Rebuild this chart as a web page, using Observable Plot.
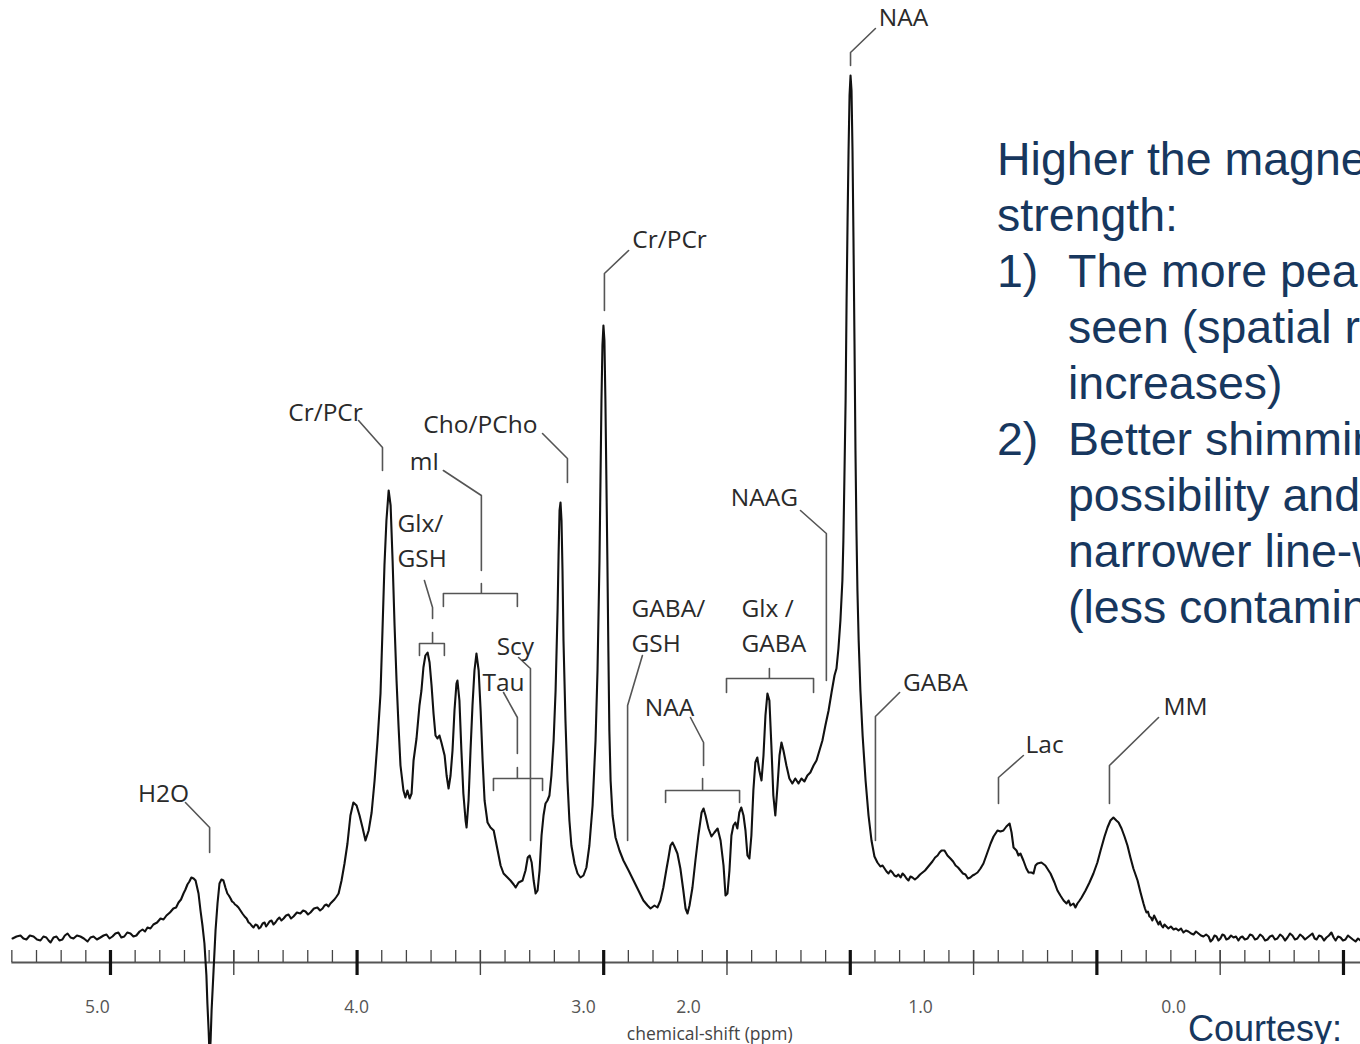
<!DOCTYPE html>
<html>
<head>
<meta charset="utf-8">
<script src="https://cdn.jsdelivr.net/npm/d3@7"></script>
<script src="https://cdn.jsdelivr.net/npm/@observablehq/plot@0.6"></script>
<style>
html,body{margin:0;padding:0;width:1360px;height:1044px;overflow:hidden;background:#fff;}
#wrap{position:relative;width:1360px;height:1044px;overflow:hidden;}
#chart{position:absolute;left:0;top:0;}
.note{position:absolute;left:997px;top:131px;font-family:"Liberation Sans",Arial,sans-serif;font-size:46.5px;line-height:56px;color:#17375E;white-space:nowrap;}
.note .num{display:inline-block;width:71px;}
.note .ind{padding-left:71px;}
.courtesy{position:absolute;left:1188px;top:1011px;font-family:"Liberation Sans",Arial,sans-serif;font-size:36px;line-height:36px;color:#17375E;white-space:nowrap;}
</style>
</head>
<body>
<div id="wrap">
  <div id="chart"></div>
  <div class="note">
    <div>Higher the magnetic field</div>
    <div>strength:</div>
    <div><span class="num">1)</span>The more peaks</div>
    <div class="ind">seen (spatial resolution</div>
    <div class="ind">increases)</div>
    <div><span class="num">2)</span>Better shimming</div>
    <div class="ind">possibility and</div>
    <div class="ind">narrower line-widths</div>
    <div class="ind">(less contamination)</div>
  </div>
  <div class="courtesy">Courtesy:</div>
</div>
<script>
// ---- spectrum: [chemical shift (ppm), intensity (a.u.)] ----
const spectrum = [
[5.397,7],[5.381,9],[5.365,10],[5.353,7],[5.341,6],[5.327,10],[5.312,9],[5.298,6],[5.284,5],[5.272,9],[5.260,8],[5.251,5],[5.243,3],[5.231,8],[5.219,9],[5.207,5],[5.195,6],[5.185,10],[5.174,12],
[5.162,8],[5.150,7],[5.136,10],[5.122,9],[5.108,7],[5.093,4],[5.081,8],[5.069,9],[5.055,6],[5.041,8],[5.028,10],[5.016,11],[5.004,7],[4.992,9],[4.980,12],[4.968,13],[4.956,8],[4.944,9],[4.932,13],[4.919,12],
[4.907,9],[4.895,10],[4.882,14],[4.870,16],[4.860,14],[4.850,18],[4.838,17],[4.826,21],[4.811,23],[4.797,27],[4.785,26],[4.773,30],[4.759,33],[4.745,37],[4.734,38],[4.724,43],[4.714,46],[4.704,52],[4.696,56],[4.688,61],
[4.680,64],[4.672,68],[4.663,67],[4.655,65],[4.643,52],[4.635,35],[4.627,20],[4.619,2],[4.611,-30],[4.607,-58],[4.602,-85],[4.598,-112],
[4.594,-95],[4.590,-65],[4.582,-25],[4.574,15],[4.566,42],[4.558,62],[4.550,66],[4.542,65],[4.534,58],[4.526,52],
[4.520,50],[4.513,47],[4.507,44],[4.501,43],[4.495,41],[4.489,40],[4.481,38],[4.473,35],[4.465,32],[4.456,29],[4.448,27],[4.440,23],[4.434,22],[4.428,20],[4.420,18],[4.412,21],[4.404,20],[4.398,17],[4.392,18],
[4.383,22],[4.375,23],[4.369,19],[4.363,21],[4.355,24],[4.347,25],[4.339,21],[4.331,23],[4.323,26],[4.315,28],[4.307,25],[4.298,27],[4.288,30],[4.278,31],[4.268,27],[4.258,29],[4.244,33],[4.230,32],[4.219,35],[4.209,34],
[4.199,31],[4.189,33],[4.175,37],[4.161,38],[4.150,35],[4.140,37],[4.132,40],[4.124,41],[4.116,39],[4.108,42],[4.100,44],[4.092,46],[4.083,49],[4.075,52],[4.063,65],[4.051,82],[4.039,102],
[4.027,130],[4.015,143],[4.002,140],[3.990,130],[3.978,118],[3.966,105],[3.953,115],[3.941,133],[3.929,165],[3.917,205],
[3.905,252],[3.897,315],[3.889,380],[3.881,425],[3.872,455],[3.864,440],[3.856,385],[3.848,320],[3.840,265],[3.832,220],
[3.824,180],[3.812,155],[3.804,148],[3.796,155],[3.787,147],[3.779,152],[3.771,185],[3.759,207],[3.747,240],[3.739,255],
[3.731,278],[3.723,290],[3.714,293],[3.706,283],[3.698,260],[3.690,232],[3.682,210],[3.674,207],[3.666,210],[3.658,203],
[3.645,190],[3.637,170],[3.629,157],[3.621,170],[3.613,195],[3.605,235],[3.597,262],[3.593,265],[3.585,245],[3.577,195],
[3.569,152],[3.560,125],[3.556,118],[3.548,145],[3.540,195],[3.532,240],[3.524,275],[3.516,292],[3.507,275],[3.499,235],
[3.491,185],[3.483,145],[3.471,123],[3.459,118],[3.446,115],[3.438,105],[3.430,95],[3.418,80],[3.406,72],[3.394,69],
[3.378,65],[3.365,61],[3.357,58],[3.345,63],[3.329,65],[3.317,75],[3.308,88],[3.300,90],[3.292,83],[3.284,65],
[3.276,52],[3.268,55],[3.260,75],[3.252,110],[3.244,130],[3.236,142],[3.228,145],[3.220,150],[3.212,170],[3.203,205],
[3.195,255],[3.187,335],[3.183,390],[3.179,435],[3.175,443],[3.171,425],[3.167,375],[3.163,305],[3.155,225],[3.147,165],
[3.139,125],[3.131,100],[3.118,82],[3.106,72],[3.094,68],[3.082,70],[3.070,78],[3.058,100],[3.045,140],[3.033,205],
[3.025,275],[3.017,385],[3.013,465],[3.009,545],[3.005,600],[3.001,620],[2.997,605],[2.993,545],[2.989,465],[2.985,385],
[2.981,295],[2.977,215],[2.972,165],[2.964,130],[2.952,108],[2.936,95],[2.920,85],[2.899,75],[2.879,65],[2.859,55],
[2.839,45],[2.822,40],[2.810,37],[2.794,40],[2.782,38],[2.770,45],[2.758,58],[2.745,77],[2.737,88],[2.729,100],
[2.721,103],[2.713,99],[2.701,92],[2.689,77],[2.677,55],[2.668,37],[2.660,32],[2.652,40],[2.640,58],[2.628,85],
[2.616,110],[2.603,133],[2.595,137],[2.587,130],[2.575,117],[2.563,109],[2.551,113],[2.538,117],[2.526,105],[2.514,80],
[2.506,50],[2.498,52],[2.490,75],[2.482,110],[2.474,120],[2.466,123],[2.458,117],[2.450,133],[2.442,138],[2.433,130],
[2.425,115],[2.417,90],[2.409,87],[2.401,110],[2.393,155],[2.385,183],[2.377,188],[2.369,175],[2.360,165],[2.352,190],
[2.344,230],[2.336,252],[2.328,245],[2.320,200],[2.312,150],[2.304,130],[2.295,160],[2.287,190],[2.279,203],[2.271,195],
[2.259,180],[2.247,167],[2.235,162],[2.223,167],[2.210,162],[2.198,167],[2.186,164],[2.174,170],[2.162,173],[2.149,180],
[2.137,185],[2.125,195],[2.113,205],[2.101,220],[2.088,235],[2.076,253],[2.064,270],[2.056,277],[2.048,297],[2.040,325],
[2.032,365],[2.028,405],[2.024,465],[2.019,545],[2.015,645],[2.011,725],[2.007,795],[2.003,850],[1.999,870],[1.995,855],
[1.991,795],[1.987,705],[1.983,605],[1.979,495],[1.975,415],[1.971,355],[1.966,305],[1.959,255],[1.950,210],[1.938,165],
[1.926,130],[1.914,105],[1.902,89],[1.890,83],[1.878,79],[1.869,80],[1.861,77],[1.853,74],[1.845,72],[1.837,75],[1.829,73],[1.821,70],[1.813,69],[1.805,71],[1.796,68],
[1.788,72],[1.780,70],[1.772,67],[1.764,65],[1.756,69],[1.748,68],[1.738,66],[1.728,68],[1.717,71],[1.707,73],[1.697,75],[1.687,78],[1.677,81],[1.667,84],[1.656,88],[1.646,90],[1.638,93],[1.630,95],[1.618,95],
[1.606,90],[1.594,87],[1.583,84],[1.573,80],[1.563,78],[1.553,75],[1.543,72],[1.533,71],[1.523,67],[1.513,68],[1.504,70],[1.496,71],[1.484,73],[1.472,77],[1.460,82],
[1.444,93],[1.431,102],[1.419,109],[1.403,115],[1.391,114],[1.379,115],[1.367,119],[1.354,122],[1.346,113],[1.338,98],
[1.326,95],[1.318,90],[1.310,92],[1.298,85],[1.286,77],[1.277,73],[1.265,73],[1.257,72],[1.249,80],[1.241,82],
[1.225,83],[1.209,80],[1.196,75],[1.188,72],[1.172,63],[1.160,55],[1.148,50],[1.135,45],[1.123,42],[1.115,45],
[1.107,40],[1.095,42],[1.087,38],[1.079,42],[1.070,45],[1.062,48],[1.046,55],[1.030,63],[1.014,72],[0.998,83],[0.985,95],[0.969,109],
[0.957,118],[0.945,125],[0.933,128],[0.921,125],[0.912,123],[0.900,117],[0.888,109],[0.876,100],[0.864,88],[0.852,77],
[0.835,65],[0.823,53],[0.811,42],[0.805,37],[0.799,33],[0.793,34],[0.787,29],[0.781,28],[0.775,25],[0.768,30],[0.762,27],[0.756,24],[0.750,21],[0.744,24],[0.738,20],[0.732,18],[0.726,21],
[0.718,19],[0.710,17],[0.700,19],[0.689,16],[0.679,17],[0.669,15],[0.659,17],[0.649,13],[0.639,15],[0.629,14],[0.618,12],[0.608,11],[0.598,14],[0.588,12],[0.578,10],[0.568,9],[0.557,11],[0.547,9],[0.539,4],[0.531,6],
[0.523,10],[0.515,9],[0.507,5],[0.499,7],[0.491,11],[0.483,10],[0.475,6],[0.466,7],[0.456,10],[0.446,8],[0.436,9],[0.426,5],[0.418,8],[0.410,9],[0.400,6],[0.389,7],[0.379,11],[0.369,10],[0.359,6],[0.349,7],
[0.338,11],[0.328,9],[0.318,5],[0.308,6],[0.298,9],[0.288,10],[0.278,6],[0.268,7],[0.257,11],[0.247,9],[0.237,5],[0.227,8],[0.217,12],[0.207,10],[0.197,6],[0.187,7],[0.176,11],[0.166,9],[0.156,6],[0.146,8],
[0.136,10],[0.126,12],[0.117,7],[0.109,6],[0.099,10],[0.089,9],[0.079,5],[0.069,8],[0.059,10],[0.049,13],[0.040,8],[0.032,5],[0.022,9],[0.012,8],[0.002,5],[-0.008,6],[-0.018,10],[-0.028,8],[-0.038,6],[-0.049,4],[-0.059,7],[-0.069,5]
];

// ---- axis ----
const majorTicks = [5, 4, 3, 2, 1, 0];
const halfTicks = [4.5, 3.5, 2.5, 1.5, 0.5];
const minorTicks = d3.range(0, 55).map(i => +(5.4 - i * 0.1).toFixed(1));
const tickLabelText = ["5.0", "4.0", "3.0", "2.0", "1.0", "0.0"];
const tickLabelPpm = [5.053, 4.002, 3.082, 2.656, 1.715, 0.689];
const axisTitle = "chemical-shift (ppm)";

// ---- peak labels (centered) ----
const peakLabels = [
  {text: "H2O", ppm: 4.785, int: 151},
  {text: "Cr/PCr", ppm: 4.128, int: 532},
  {text: "Cho/PCho", ppm: 3.500, int: 520},
  {text: "mI", ppm: 3.727, int: 483},
  {text: "Scy", ppm: 3.358, int: 298},
  {text: "Tau", ppm: 3.406, int: 262},
  {text: "Cr/PCr", ppm: 2.733, int: 705},
  {text: "NAAG", ppm: 2.348, int: 447},
  {text: "NAA", ppm: 2.733, int: 237},
  {text: "NAA", ppm: 1.784, int: 927},
  {text: "GABA", ppm: 1.655, int: 262},
  {text: "Lac", ppm: 1.212, int: 200},
  {text: "MM", ppm: 0.641, int: 238}
];
// ---- peak labels (left aligned, two lines) ----
const stackedLabels = [
  {text: "Glx/", ppm: 3.836, int: 421},
  {text: "GSH", ppm: 3.836, int: 386},
  {text: "GABA/", ppm: 2.887, int: 336},
  {text: "GSH", ppm: 2.887, int: 301},
  {text: "Glx /", ppm: 2.441, int: 336},
  {text: "GABA", ppm: 2.441, int: 301}
];

// ---- leader lines: [ppm, intensity] vertices ----
const leaders = [
  [[4.696, 143], [4.598, 118], [4.598, 93]],   // H2O
  [[3.994, 525], [3.897, 498], [3.897, 475]],  // Cr/PCr 3.9
  [[3.248, 512], [3.147, 487], [3.147, 463]],  // Cho/PCho
  [[3.650, 475], [3.496, 450], [3.496, 375]],  // mI
  [[3.727, 365], [3.694, 338], [3.694, 327]],  // Glx/GSH
  [[3.345, 288], [3.297, 277], [3.297, 105]],  // Scy
  [[3.406, 253], [3.350, 228], [3.350, 192]],  // Tau
  [[2.899, 695], [2.997, 672], [2.997, 635]],  // Cr/PCr 3.0
  [[2.202, 435], [2.097, 412], [2.097, 265]],  // NAAG
  [[2.843, 290], [2.903, 240], [2.903, 105]],  // GABA/GSH
  [[2.648, 228], [2.595, 203], [2.595, 180]],  // NAA multiplet
  [[1.898, 917], [1.999, 893], [1.999, 880]],  // NAA
  [[1.800, 253], [1.898, 229], [1.898, 105]],  // GABA
  [[1.298, 190], [1.399, 168], [1.399, 142]],  // Lac
  [[0.750, 228], [0.949, 180], [0.949, 142]]   // MM
];

// ---- brackets: [left, centre, right, bar level, end level, tick top] ----
const brackets = [
  [3.650, 3.496, 3.350, 352, 339, 362],  // mI
  [3.747, 3.694, 3.646, 302, 290, 313],  // Glx/GSH
  [3.447, 3.350, 3.248, 167, 155, 178],  // Tau
  [2.749, 2.599, 2.449, 155, 143, 167],  // NAA
  [2.502, 2.328, 2.149, 267, 253, 277]   // Glx/GABA
];

// build tables
const leaderRows = leaders.flatMap((pts, id) => pts.map(([ppm, v]) => ({id, ppm, int: v})));
const bracketRows = brackets.flatMap(([a, c, b, bar, end, top], id) =>
  [[a, end], [a, bar], [c, bar], [c, top], [c, bar], [b, bar], [b, end]].map(([ppm, v]) => ({id, ppm, int: v})));
const tickLabels = tickLabelText.map((t, i) => ({text: t, ppm: tickLabelPpm[i]}));

const AXIS = -17;        // axis baseline level
const font = "'Open Sans', 'DejaVu Sans', sans-serif";

const chart = Plot.plot({
  width: 1360,
  height: 1044,
  marginLeft: 0,
  marginRight: 0,
  marginTop: 0,
  marginBottom: 82,
  style: {background: "transparent", overflow: "visible"},
  x: {domain: [5.446, -0.069], axis: null},
  y: {domain: [-17, 945], axis: null},
  marks: [
    // axis
    Plot.ruleY([AXIS], {x1: 5.4, x2: -0.069, stroke: "#555", strokeWidth: 1.8}),
    Plot.ruleX(minorTicks, {x: d => d, y1: AXIS, y2: -5, stroke: "#444", strokeWidth: 1.3}),
    Plot.ruleX(halfTicks, {x: d => d, y1: -30, y2: -5, stroke: "#444", strokeWidth: 1.4}),
    Plot.ruleX(majorTicks, {x: d => d, y1: -30, y2: -5, stroke: "#111", strokeWidth: 3.2}),
    Plot.text(tickLabels, {x: "ppm", y: -62, text: "text", fontFamily: font, fontSize: 17.5, fill: "#555"}),
    Plot.text([axisTitle], {x: 2.57, y: -89, text: d => d, fontFamily: font, fontSize: 17.5, fill: "#444"}),
    // annotations
    Plot.line(leaderRows, {x: "ppm", y: "int", z: "id", stroke: "#555", strokeWidth: 1.6}),
    Plot.line(bracketRows, {x: "ppm", y: "int", z: "id", stroke: "#555", strokeWidth: 1.6}),
    Plot.text(peakLabels, {x: "ppm", y: "int", text: "text", fontFamily: font, fontSize: 24.5, fill: "#2a2a2a"}),
    Plot.text(stackedLabels, {x: "ppm", y: "int", text: "text", textAnchor: "start", fontFamily: font, fontSize: 24.5, fill: "#2a2a2a"}),
    // spectrum
    Plot.line(spectrum, {x: d => d[0], y: d => d[1], stroke: "#111", strokeWidth: 2.1, strokeLinejoin: "round"})
  ]
});
document.getElementById("chart").appendChild(chart);
</script>
</body>
</html>
